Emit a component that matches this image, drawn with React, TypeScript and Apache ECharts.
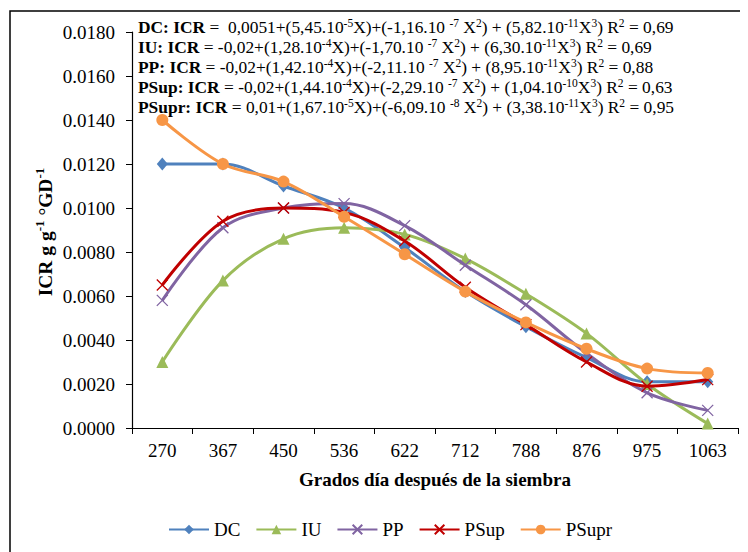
import React, { useEffect, useRef } from "react";
import * as echarts from "echarts";

const categories = ["270", "367", "450", "536", "622", "712", "788", "876", "975", "1063"];
const dcValues = [0.012, 0.012, 0.011, 0.01, 0.0082, 0.0062, 0.0046, 0.0032, 0.0021, 0.0021];
const iuValues = [0.003, 0.0067, 0.0086, 0.0091, 0.0088, 0.0077, 0.0061, 0.0043, 0.002, 0.0002];
const ppValues = [0.0058, 0.0091, 0.01, 0.0102, 0.0092, 0.0074, 0.0056, 0.0034, 0.0016, 0.0008];
const psupValues = [0.0065, 0.0094, 0.01, 0.0098, 0.0085, 0.0064, 0.0047, 0.003, 0.0019, 0.0022];
const psuprValues = [0.014, 0.012, 0.0112, 0.0096, 0.0079, 0.0062, 0.0048, 0.0036, 0.0027, 0.0025];

const seriesNames = ["DC", "IU", "PP", "PSup", "PSupr"];
const seriesColors = ["#4F81BD", "#9BBB59", "#8064A2", "#C00000", "#F79646"];

type Eq = { label: string; a: string; b: string; bExp: string; c: string; cExp: string; d: string; dExp: string; r2: string };
const equations: Eq[] = [
  { label: "DC: ICR", a: " =  0,0051", b: "5,45.10", bExp: "-5", c: "-1,16.10 ", cExp: "-7", d: "5,82.10", dExp: "-11", r2: "0,69" },
  { label: "IU: ICR", a: " = -0,02", b: "1,28.10", bExp: "-4", c: "-1,70.10 ", cExp: "-7", d: "6,30.10", dExp: "-11", r2: "0,69" },
  { label: "PP: ICR", a: " = -0,02", b: "1,42.10", bExp: "-4", c: "-2,11.10 ", cExp: "-7", d: "8,95.10", dExp: "-11", r2: "0,88" },
  { label: "PSup: ICR", a: " = -0,02", b: "1,44.10", bExp: "-4", c: "-2,29.10 ", cExp: "-7", d: "1,04.10", dExp: "-10", r2: "0,63" },
  { label: "PSupr: ICR", a: " = 0,01", b: "1,67.10", bExp: "-5", c: "-6,09.10 ", cExp: "-8", d: "3,38.10", dExp: "-11", r2: "0,95" },
];

const FONT = "Liberation Serif";
const X_PATH = "path://M0,0L10,10M10,0L0,10";

function eqText(e: Eq) {
  return (
    `{b|${e.label}}{n|${e.a}+(${e.b}}{s|${e.bExp}}{n|X)+(${e.c}}{s|${e.cExp}}{n| X}{s|2}` +
    `{n|) + (${e.d}}{s|${e.dExp}}{n|X}{s|3}{n|) R}{s|2}{n| = ${e.r2}}`
  );
}

export default function App() {
  const ref = useRef<HTMLDivElement>(null);
  useEffect(() => {
    if (!ref.current) return;
    const chart = echarts.init(ref.current, undefined, { renderer: "svg" });
    const data = [dcValues, iuValues, ppValues, psupValues, psuprValues];
    const symbols = ["diamond", "triangle", X_PATH, X_PATH, "circle"];
    const sizes: any[] = [[11, 13], 12, 11, 11, 12];
    const eqRich = {
      b: { fontFamily: FONT, fontSize: 17.4, fontWeight: "bold", lineHeight: 20, color: "#000" },
      n: { fontFamily: FONT, fontSize: 17.4, lineHeight: 20, color: "#000" },
      s: { fontFamily: FONT, fontSize: 11.5, lineHeight: 12, verticalAlign: "top", color: "#000" },
    };
    const graphics: any[] = [
      {
        type: "rect",
        shape: { x: 2, y: 3, width: 760, height: 560 },
        style: { fill: "none", stroke: "#000", lineWidth: 1.5 },
        silent: true,
      },
      {
        type: "text",
        x: 37,
        y: 224,
        rotation: Math.PI / 2,
        style: {
          text: "{b|ICR g g}{s|-1}{b| °GD}{s|-1}",
          align: "center",
          verticalAlign: "middle",
          rich: {
            b: { fontFamily: FONT, fontSize: 19.5, fontWeight: "bold", lineHeight: 24, color: "#000" },
            s: { fontFamily: FONT, fontSize: 13, fontWeight: "bold", lineHeight: 14, verticalAlign: "top", color: "#000" },
          },
        },
      },
    ];
    equations.forEach((e, i) => {
      graphics.push({
        type: "text",
        x: 130,
        y: 9 + i * 20,
        z: 100,
        style: { text: eqText(e), rich: eqRich, align: "left", verticalAlign: "top" },
      });
    });
    chart.setOption({
      animation: false,
      backgroundColor: "#fff",
      textStyle: { fontFamily: FONT },
      grid: { left: 124, right: 2, top: 24, bottom: 124, containLabel: false },
      legend: {
        left: 155,
        top: 507,
        itemWidth: 40,
        itemHeight: 12,
        itemGap: 15,
        textStyle: { fontFamily: FONT, fontSize: 19, color: "#000" },
        data: seriesNames,
      },
      xAxis: {
        type: "category",
        data: categories,
        boundaryGap: true,
        name: "Grados día después de la siembra",
        nameLocation: "middle",
        nameGap: 42,
        nameTextStyle: { fontFamily: FONT, fontSize: 19, fontWeight: "bold", color: "#000" },
        axisLine: { lineStyle: { color: "#000", width: 1.2 } },
        axisTick: { show: true, inside: false, length: 6, alignWithLabel: false, lineStyle: { color: "#000" } },
        axisLabel: { fontFamily: FONT, fontSize: 19, color: "#000", margin: 13 },
        splitLine: { show: false },
      },
      yAxis: {
        type: "value",
        min: 0,
        max: 0.018,
        interval: 0.002,
        axisLine: { show: true, lineStyle: { color: "#000", width: 1.2 } },
        axisTick: { show: true, length: 6, lineStyle: { color: "#000" } },
        axisLabel: {
          fontFamily: FONT,
          fontSize: 19,
          color: "#000",
          margin: 17,
          formatter: (v: number) => v.toFixed(4),
        },
        splitLine: { show: false },
      },
      graphic: graphics,
      series: seriesNames.map((name, i) => ({
        name,
        type: "line",
        data: data[i],
        smooth: 0.35,
        symbol: symbols[i],
        symbolSize: sizes[i],
        showAllSymbol: true,
        lineStyle: { color: seriesColors[i], width: 3 },
        itemStyle:
          i === 2 || i === 3
            ? { color: seriesColors[i], borderColor: seriesColors[i], borderWidth: 1.3 }
            : { color: seriesColors[i], borderWidth: 0 },
        z: 2 + i,
      })),
    });
    return () => chart.dispose();
  }, []);
  return <div ref={ref} style={{ width: 732, height: 544 }} />;
}
